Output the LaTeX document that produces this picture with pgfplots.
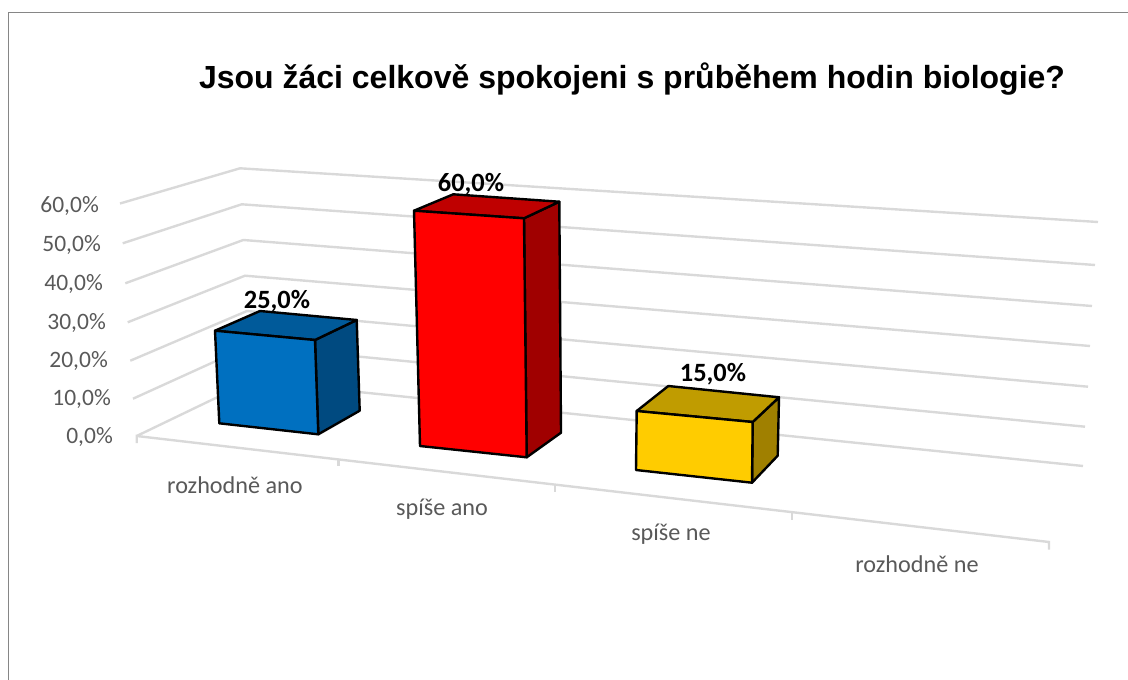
\documentclass[border=0pt]{standalone}
\usepackage{pgfplots}
\pgfplotsset{compat=1.18}
\usepackage{fontspec}
\setmainfont{Carlito}
\newfontfamily\titlefont{Liberation Sans}
\definecolor{gridc}{HTML}{D9D9D9}
\definecolor{framec}{HTML}{868686}
\definecolor{tickc}{HTML}{595959}
\definecolor{bluef}{HTML}{0070C0}
\definecolor{bluet}{HTML}{005A9A}
\definecolor{blues}{HTML}{004A80}
\definecolor{redf}{HTML}{FF0000}
\definecolor{redt}{HTML}{BF0000}
\definecolor{reds}{HTML}{A00000}
\definecolor{yelf}{HTML}{FFCC00}
\definecolor{yelt}{HTML}{C09C00}
\definecolor{yels}{HTML}{A08000}
\pgfplotsset{
  gridl/.style={draw=gridc,line width=2.4pt,line join=miter,no markers},
  face/.style={line width=2.4pt,draw=black,line join=round,no markers},
}
\begin{document}
\begin{tikzpicture}
\useasboundingbox (0,0) rectangle (1128pt,680pt);
\begin{axis}[
  at={(0,0)},anchor=south west,
  scale only axis,width=1128pt,height=680pt,
  xmin=0,xmax=1128,ymin=0,ymax=680,y dir=reverse,
  hide axis,clip=false,
]
% frame
\addplot[draw=framec,line width=1.5pt,no markers] coordinates {(8.5,680)(8.5,12.5)(1128,12.5)};
% gridlines 60,50,...,0 %
\addplot[gridl] coordinates {(120,203.5)(240,168.3)(1098,222)};
\addplot[gridl] coordinates {(122.7,243.3)(241.7,204.3)(1095,265)};
\addplot[gridl] coordinates {(125.3,283.3)(243.3,240)(1092,306)};
\addplot[gridl] coordinates {(127.7,322.3)(245,275.7)(1090,346)};
\addplot[gridl] coordinates {(130.3,360.7)(247,311)(1088,386.7)};
\addplot[gridl] coordinates {(133,398.7)(249,346)(1085,426.7)};
\addplot[gridl] coordinates {(136.7,436)(251,381)(1083,466)};
% floor front edge and ticks
\addplot[gridl] coordinates {(136.7,443)(136.7,436)(1049,542)(1049,549.5)};
\addplot[gridl] coordinates {(338.3,459.4)(338.3,466)};
\addplot[gridl] coordinates {(555,484.6)(555,491.5)};
\addplot[gridl] coordinates {(791.7,512)(791.7,519.5)};
% blue bar, 25,0 %
\addplot[face,fill=blues] coordinates {(315,340)(356.7,320)(359.7,410.7)(318.3,434.3)} -- cycle;
\addplot[face,fill=bluet] coordinates {(215,330.7)(260,311)(356.7,320)(315,340)} -- cycle;
\addplot[face,fill=bluef] coordinates {(215,330.7)(315,340)(318.3,434.3)(219.3,423.3)} -- cycle;
% red bar, 60,0 %
\addplot[face,fill=reds] coordinates {(524,218.3)(559.3,201.7)(561,432.7)(526.7,457.3)} -- cycle;
\addplot[face,fill=redt] coordinates {(414,210.7)(453.3,194.3)(559.3,201.7)(524,218.3)} -- cycle;
\addplot[face,fill=redf] coordinates {(414,210.7)(524,218.3)(526.7,457.3)(420,446)} -- cycle;
% yellow bar, 15,0 %
\addplot[face,fill=yels] coordinates {(752.7,422)(779,397.3)(777.7,455.7)(752,482.7)} -- cycle;
\addplot[face,fill=yelt] coordinates {(636.7,411)(668.3,386)(779,397.3)(752.7,422)} -- cycle;
\addplot[face,fill=yelf] coordinates {(636.7,411)(752.7,422)(752,482.7)(636,470)} -- cycle;
% texts
\node[anchor=center,inner sep=0pt] at (axis cs:632,79.5) {\titlefont\bfseries\fontsize{32}{38}\selectfont Jsou žáci celkově spokojeni s průběhem hodin biologie?};
\foreach \xx/\yy/\tt in {99/205.5/60,101/245/50,103/284/40,106/322.5/30,108/360.5/20,111/398.5/10,113/436.5/0}{
  \edef\temp{\noexpand\node[anchor=east,inner sep=0pt,text=tickc] at (axis cs:\xx,\yy) {\noexpand\fontsize{23.5}{28}\noexpand\selectfont \tt,0\noexpand\%};}
  \temp
}
\foreach \xx/\yy/\tt in {235/485/rozhodně ano,442/509/spíše ano,671/534/spíše ne,917/564/rozhodně ne}{
  \edef\temp{\noexpand\node[anchor=center,inner sep=0pt,text=tickc] at (axis cs:\xx,\yy) {\noexpand\fontsize{24.2}{29}\noexpand\selectfont \tt};}
  \temp
}
\foreach \xx/\yy/\tt in {277/301.5/25,471/184.5/60,713/374.5/15}{
  \edef\temp{\noexpand\node[anchor=center,inner sep=0pt,text=black] at (axis cs:\xx,\yy) {\noexpand\bfseries\noexpand\fontsize{26.4}{31}\noexpand\selectfont \tt,0\noexpand\%};}
  \temp
}
\end{axis}
\end{tikzpicture}
\end{document}
